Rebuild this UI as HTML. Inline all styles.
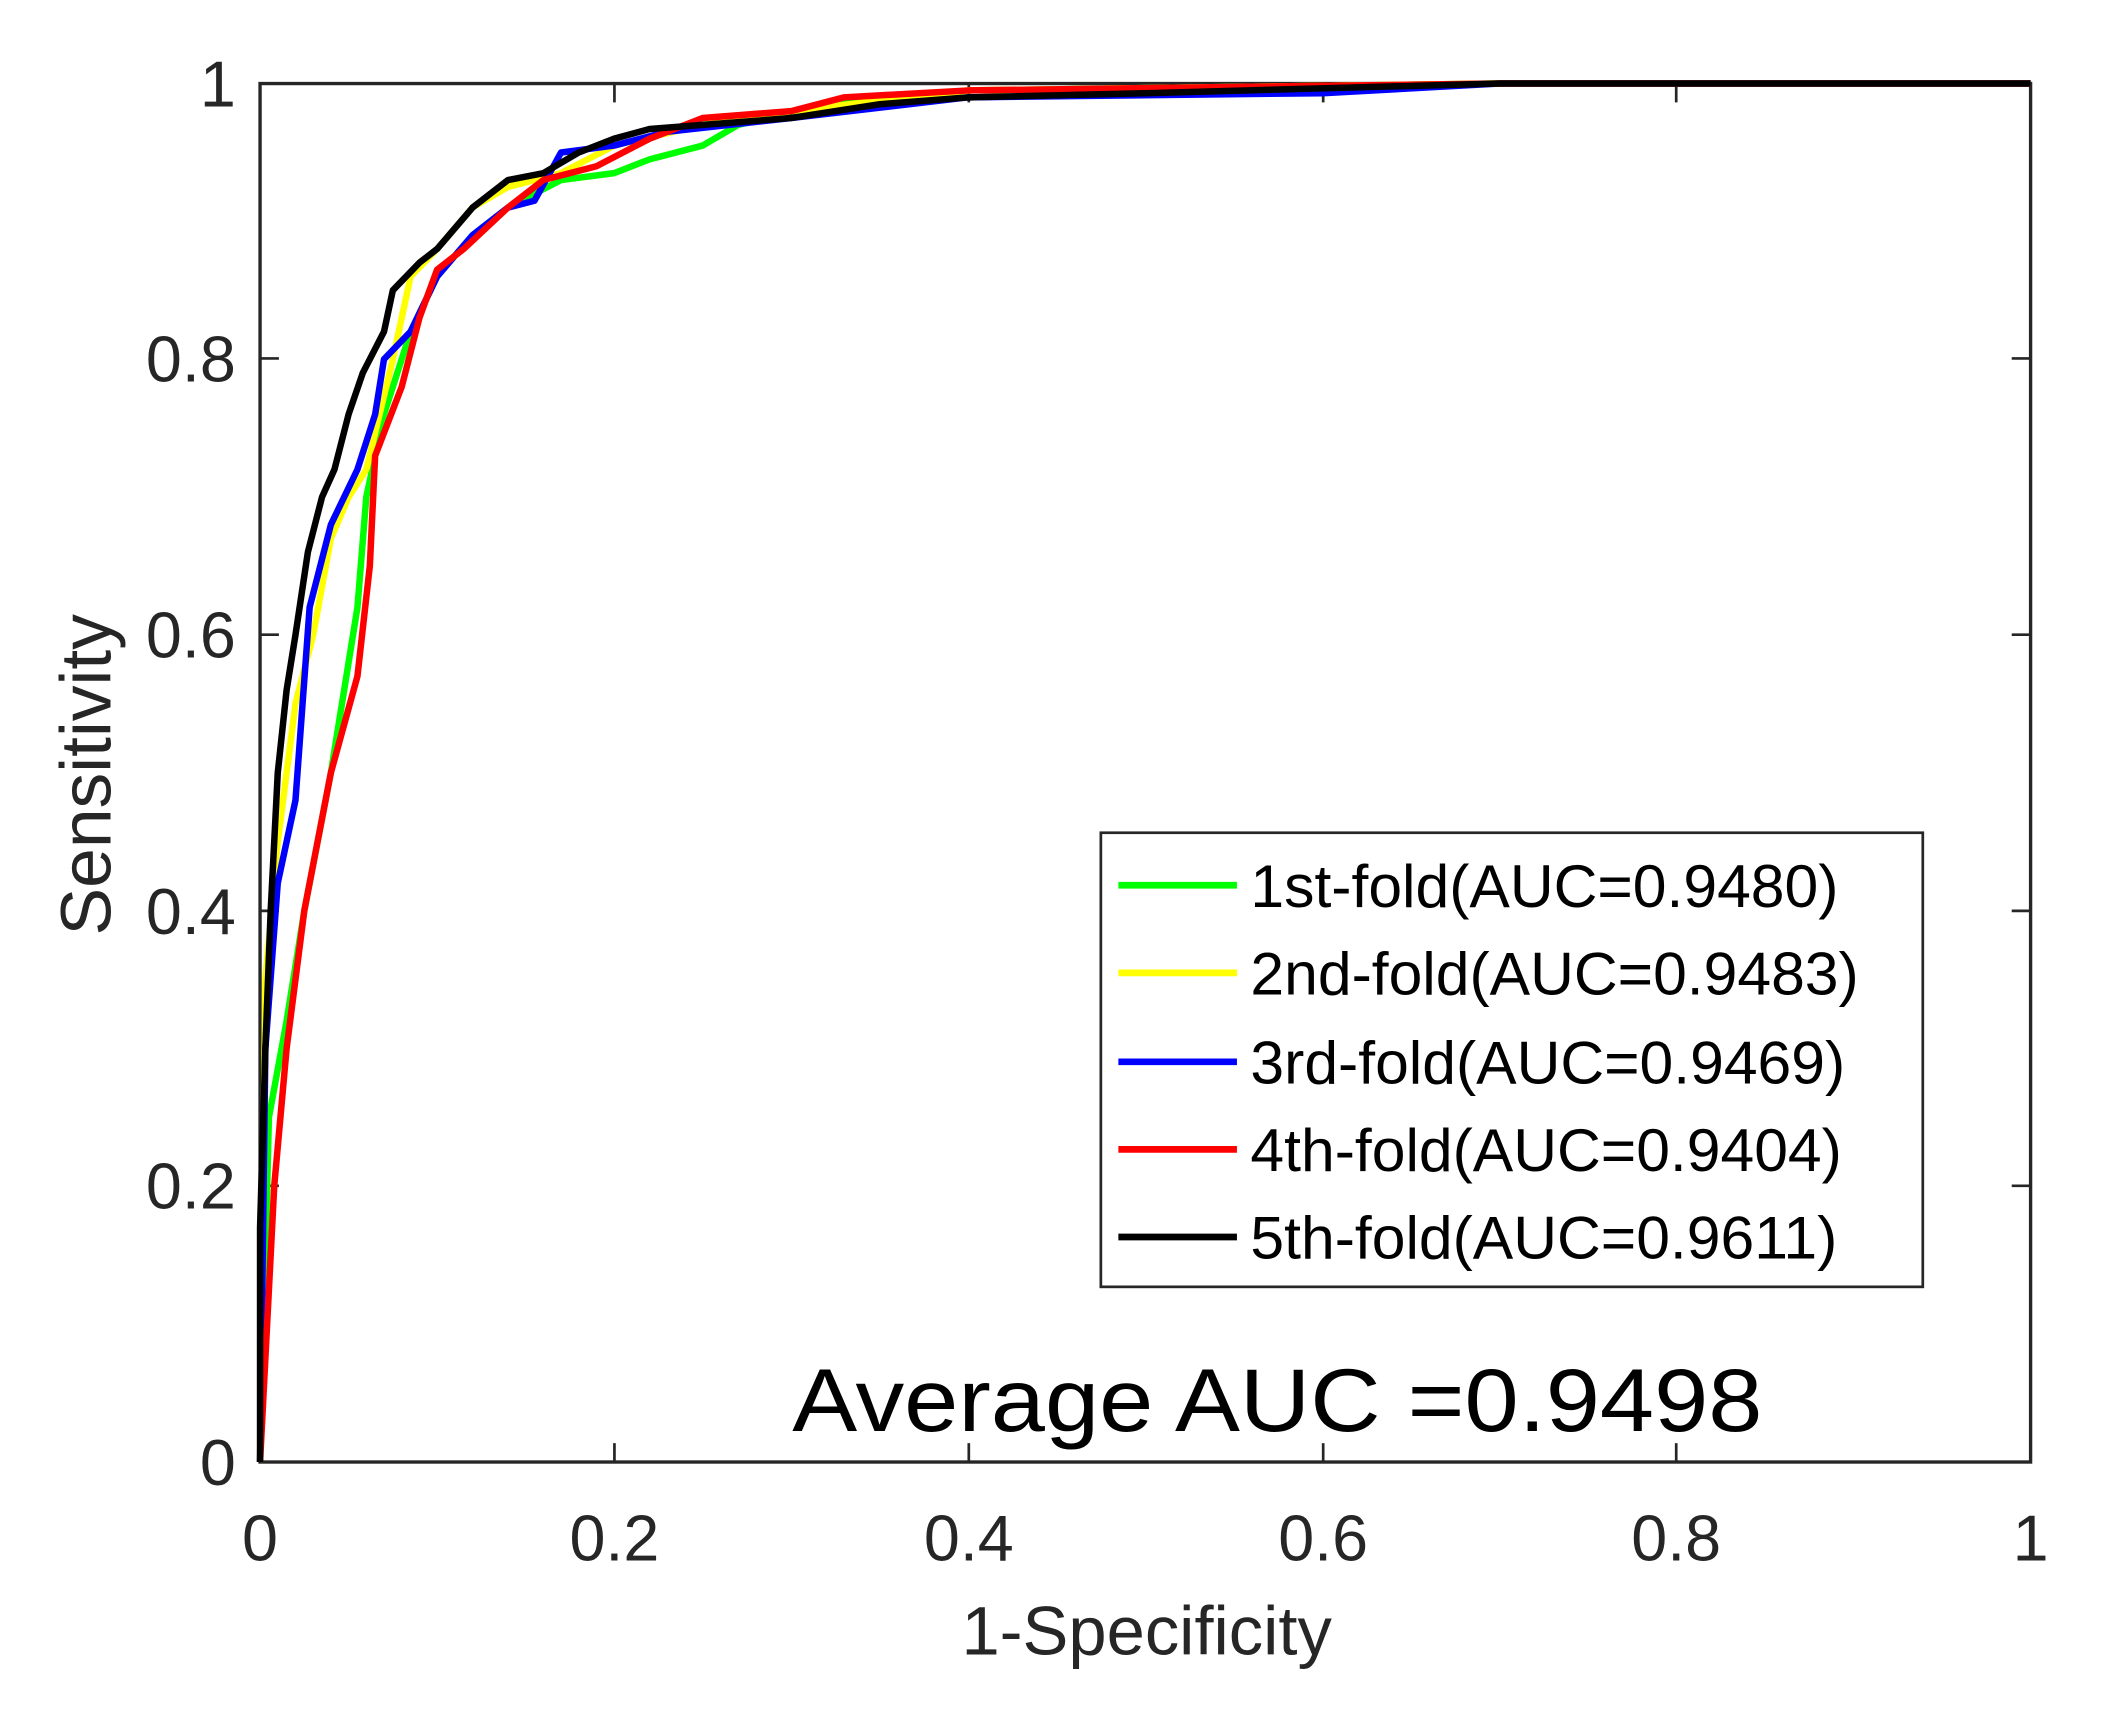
<!DOCTYPE html>
<html><head><meta charset="utf-8"><style>
html,body{margin:0;padding:0;background:#fff;}
svg{display:block;}
text{font-family:"Liberation Sans",Arial,sans-serif;}
</style></head><body>
<svg width="2102" height="1714" viewBox="0 0 1560 1272" preserveAspectRatio="none" xmlns="http://www.w3.org/2000/svg">
<rect width="1560" height="1272" fill="#fff"/>
<rect x="193" y="62" width="1314" height="1023" fill="none" stroke="#262626" stroke-width="2.5"/>
<g stroke="#262626" stroke-width="2">
<line x1="456" y1="1085" x2="456" y2="1071"/><line x1="719" y1="1085" x2="719" y2="1071"/><line x1="982" y1="1085" x2="982" y2="1071"/><line x1="1244" y1="1085" x2="1244" y2="1071"/>
<line x1="456" y1="62" x2="456" y2="76"/><line x1="719" y1="62" x2="719" y2="76"/><line x1="982" y1="62" x2="982" y2="76"/><line x1="1244" y1="62" x2="1244" y2="76"/>
<line x1="193" y1="880" x2="207" y2="880"/><line x1="193" y1="676" x2="207" y2="676"/><line x1="193" y1="471" x2="207" y2="471"/><line x1="193" y1="266" x2="207" y2="266"/>
<line x1="1507" y1="880" x2="1493" y2="880"/><line x1="1507" y1="676" x2="1493" y2="676"/><line x1="1507" y1="471" x2="1493" y2="471"/><line x1="1507" y1="266" x2="1493" y2="266"/>
</g>
<g fill="#262626" font-size="48" text-anchor="end">
<text x="175" y="1102">0</text><text x="175" y="897">0.2</text><text x="175" y="693">0.4</text><text x="175" y="488">0.6</text><text x="175" y="283">0.8</text><text x="175" y="79">1</text>
</g>
<g fill="#262626" font-size="48" text-anchor="middle">
<text x="193" y="1158">0</text><text x="456" y="1158">0.2</text><text x="719" y="1158">0.4</text><text x="982" y="1158">0.6</text><text x="1244" y="1158">0.8</text><text x="1507" y="1158">1</text>
</g>
<text x="851" y="1228" font-size="51" fill="#262626" text-anchor="middle">1-Specificity</text>
<text transform="translate(82,575) rotate(-90)" font-size="53" fill="#262626" text-anchor="middle">Sensitivity</text>
<g transform="translate(193,1085) scale(1314,-1023)" fill="none" stroke-width="6.5" stroke-linejoin="round">
<polyline vector-effect="non-scaling-stroke" stroke="#00ff00" points="0,0 0.005,0.25 0.015,0.32 0.025,0.4 0.04,0.5 0.055,0.62 0.06,0.7 0.07,0.76 0.085,0.82 0.1,0.86 0.12,0.89 0.14,0.91 0.17,0.93 0.2,0.935 0.22,0.945 0.25,0.955 0.27,0.97 0.32,0.985 0.4,0.995 0.7,1 1,1"/>
<polyline vector-effect="non-scaling-stroke" stroke="#ffff00" points="0,0 0.003,0.35 0.01,0.45 0.02,0.55 0.03,0.6 0.04,0.67 0.05,0.7 0.06,0.72 0.075,0.8 0.085,0.86 0.1,0.88 0.12,0.91 0.14,0.925 0.17,0.935 0.2,0.955 0.25,0.97 0.3,0.98 0.4,0.995 0.7,1 1,1"/>
<polyline vector-effect="non-scaling-stroke" stroke="#0000ff" points="0,0 0.003,0.3 0.01,0.42 0.02,0.48 0.028,0.62 0.04,0.68 0.055,0.72 0.065,0.76 0.07,0.8 0.085,0.82 0.1,0.86 0.12,0.89 0.14,0.91 0.155,0.915 0.17,0.95 0.2,0.955 0.23,0.965 0.3,0.975 0.4,0.99 0.6,0.993 0.7,1 1,1"/>
<polyline vector-effect="non-scaling-stroke" stroke="#ff0000" points="0,0 0.004,0.1 0.008,0.2 0.015,0.3 0.025,0.4 0.04,0.5 0.055,0.57 0.062,0.65 0.065,0.73 0.08,0.78 0.09,0.83 0.1,0.865 0.115,0.88 0.14,0.91 0.16,0.93 0.19,0.94 0.22,0.96 0.25,0.975 0.3,0.98 0.33,0.99 0.4,0.995 0.7,1 1,1"/>
<polyline vector-effect="non-scaling-stroke" stroke="#000000" points="0,0 0,0.17 0.003,0.3 0.006,0.4 0.01,0.5 0.015,0.56 0.02,0.6 0.027,0.66 0.035,0.7 0.042,0.72 0.05,0.76 0.058,0.79 0.07,0.82 0.075,0.85 0.09,0.87 0.1,0.88 0.12,0.91 0.14,0.93 0.16,0.935 0.18,0.95 0.2,0.96 0.22,0.967 0.25,0.97 0.3,0.975 0.35,0.985 0.4,0.99 0.5,0.993 0.7,1 1,1"/>
</g>
<rect x="817" y="618" width="610" height="337" fill="#fff" stroke="#262626" stroke-width="2"/>
<g stroke-width="5">
<line x1="830" y1="657" x2="918" y2="657" stroke="#00ff00"/>
<line x1="830" y1="722" x2="918" y2="722" stroke="#ffff00"/>
<line x1="830" y1="788" x2="918" y2="788" stroke="#0000ff"/>
<line x1="830" y1="853" x2="918" y2="853" stroke="#ff0000"/>
<line x1="830" y1="918" x2="918" y2="918" stroke="#000000"/>
</g>
<g font-size="45" fill="#000">
<text x="928" y="673">1st-fold(AUC=0.9480)</text>
<text x="928" y="738">2nd-fold(AUC=0.9483)</text>
<text x="928" y="804">3rd-fold(AUC=0.9469)</text>
<text x="928" y="869">4th-fold(AUC=0.9404)</text>
<text x="928" y="934">5th-fold(AUC=0.9611)</text>
</g>
<text x="588" y="1062" font-size="66" fill="#000" textLength="720" lengthAdjust="spacingAndGlyphs">Average AUC =0.9498</text>
</svg>
</body></html>
